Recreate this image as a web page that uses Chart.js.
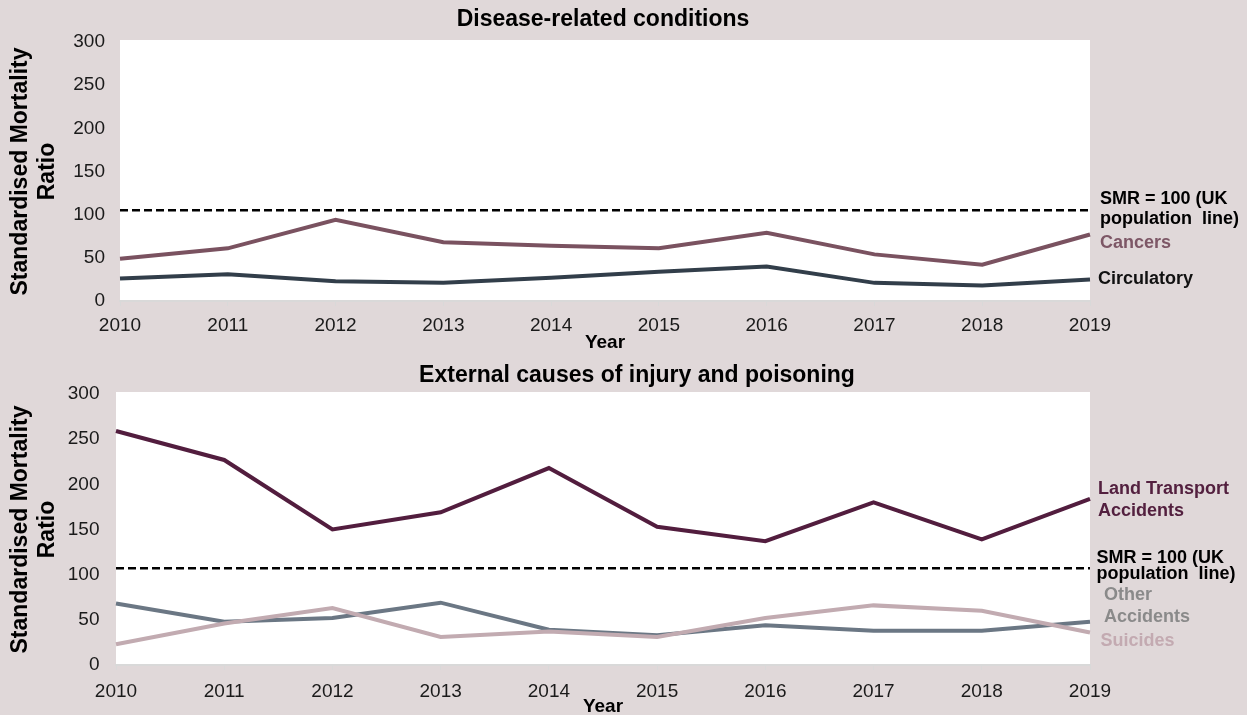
<!DOCTYPE html>
<html>
<head>
<meta charset="utf-8">
<script src="https://cdn.jsdelivr.net/npm/chart.js@4.4.1/dist/chart.umd.min.js"></script>
<style>
  html, body { margin: 0; padding: 0; background: #e0d8d9; overflow: hidden; }
  .panel { position: absolute; left: 0; }
  #top { top: 0; }
  #bottom { top: 357px; }
</style>
</head>
<body>
<div class="panel" id="top"><canvas id="diseaseChart" width="1247" height="357"></canvas></div>
<div class="panel" id="bottom"><canvas id="externalChart" width="1247" height="358"></canvas></div>
<script>
const years = ['2010', '2011', '2012', '2013', '2014', '2015', '2016', '2017', '2018', '2019'];
const yTicks = [0, 50, 100, 150, 200, 250, 300];

// Disease-related conditions
const cancers = [49, 61, 94, 68, 64, 61, 79, 54, 42, 77];
const circulatory = [26, 31, 23, 21, 27, 34, 40, 21, 18, 25];
const smrTop = [105, 105, 105, 105, 105, 105, 105, 105, 105, 105];

// External causes of injury and poisoning
const landTransport = [259, 227, 150, 169, 218, 153, 137, 180, 139, 184];
const otherAccidents = [68, 48, 52, 69, 39, 33, 44, 38, 38, 48];
const suicides = [23, 46, 63, 31, 37, 31, 52, 66, 60, 36];
const smrBottom = [107, 107, 107, 107, 107, 107, 107, 107, 107, 107];

const FONT = '"Liberation Sans", Arial, sans-serif';

// white plot area + panel title
const plotBg = {
    id: 'plotBg',
    beforeDraw(chart) {
        const a = chart.chartArea;
        const c = chart.ctx;
        c.save();
        c.fillStyle = '#ffffff';
        c.fillRect(a.left, a.top - 2, a.right - a.left, a.bottom - a.top + 2);
        c.restore();
    },
    afterDraw(chart, args, opts) {
        const c = chart.ctx;
        c.save();
        c.font = 'bold 23px ' + FONT;
        c.fillStyle = '#000';
        c.textAlign = 'center';
        c.textBaseline = 'middle';
        c.fillText(opts.text, opts.x, opts.y);
        c.restore();
    }
};

// labels at the right end of each line
const sideLabels = {
    id: 'sideLabels',
    afterDraw(chart, args, opts) {
        const c = chart.ctx;
        const ys = chart.scales.y;
        c.save();
        c.font = 'bold 18px ' + FONT;
        c.textAlign = 'left';
        c.textBaseline = 'middle';
        opts.items.forEach(item => {
            const data = chart.data.datasets[item.ds].data;
            const yLast = ys.getPixelForValue(data[data.length - 1]);
            c.fillStyle = item.color;
            item.lines.forEach(l => {
                c.fillText(l.text, chart.chartArea.right + item.dx, yLast + l.dy);
            });
        });
        c.restore();
    }
};

function lineSet(label, data, color, order) {
    return {
        label: label,
        data: data,
        borderColor: color,
        borderWidth: 4,
        pointRadius: 0,
        tension: 0,
        fill: false,
        order: order
    };
}

function smrSet(data) {
    return {
        label: 'SMR = 100 (UK population line)',
        data: data,
        borderColor: '#000000',
        borderWidth: 2.5,
        borderDash: [8, 4],
        pointRadius: 0,
        fill: false,
        order: 0
    };
}

function makeOptions(cfg) {
    return {
        responsive: false,
        animation: false,
        layout: { padding: { left: 0, right: 157, top: cfg.top, bottom: 0 } },
        plugins: {
            legend: { display: false },
            tooltip: { enabled: false },
            plotBg: cfg.title,
            sideLabels: { items: cfg.labels }
        },
        scales: {
            x: {
                offset: false,
                grid: { drawOnChartArea: false, color: '#d9d9d9', tickLength: 5 },
                border: { display: true, color: '#d9d9d9', width: 2 },
                ticks: { color: '#1a1a1a', font: { family: FONT, size: 19 }, padding: cfg.xPad, maxRotation: 0, autoSkip: false },
                title: { display: true, text: 'Year', color: '#000', font: { family: FONT, size: 19, weight: 'bold' }, padding: { top: 0, bottom: cfg.yearPad } },
                afterFit(s) { s.height = cfg.xHeight; }
            },
            y: {
                min: 0,
                max: 300,
                afterBuildTicks(s) { s.ticks = yTicks.map(v => ({ value: v })); },
                grid: { display: false, drawTicks: false },
                border: { display: false },
                ticks: { color: '#1a1a1a', font: { family: FONT, size: 19 }, padding: cfg.yPad },
                title: { display: true, text: ['Standardised Mortality', 'Ratio'], color: '#000', font: { family: FONT, size: 23, weight: 'bold', lineHeight: 1.17 }, padding: { top: 7.5, bottom: 0 } },
                afterFit(s) { s.width = cfg.yWidth; }
            }
        }
    };
}

new Chart(document.getElementById('diseaseChart'), {
    type: 'line',
    data: {
        labels: years,
        datasets: [
            smrSet(smrTop),
            lineSet('Cancers', cancers, '#7a5260', 1),
            lineSet('Circulatory', circulatory, '#323e4a', 2)
        ]
    },
    options: makeOptions({
        top: 42, xHeight: 56, yWidth: 120, xPad: 8, yPad: 15, yearPad: 2.6,
        title: { text: 'Disease-related conditions', x: 603, y: 20 },
        labels: [
            { ds: 0, dx: 10, color: '#000', lines: [{ text: 'SMR = 100 (UK', dy: -11 }, { text: 'population  line)', dy: 9 }] },
            { ds: 1, dx: 10, color: '#7d5766', lines: [{ text: 'Cancers', dy: 9 }] },
            { ds: 2, dx: 8, color: '#111', lines: [{ text: 'Circulatory', dy: 0 }] }
        ]
    }),
    plugins: [plotBg, sideLabels]
});

new Chart(document.getElementById('externalChart'), {
    type: 'line',
    data: {
        labels: years,
        datasets: [
            smrSet(smrBottom),
            lineSet('Land Transport Accidents', landTransport, '#521d3e', 1),
            lineSet('Suicides', suicides, '#c2abb1', 2),
            lineSet('Other Accidents', otherAccidents, '#6b7784', 3)
        ]
    },
    options: makeOptions({
        top: 37, xHeight: 50, yWidth: 116, xPad: 10, yPad: 16.5, yearPad: -2.9,
        title: { text: 'External causes of injury and poisoning', x: 637, y: 19 },
        labels: [
            { ds: 1, dx: 8, color: '#53203f', lines: [{ text: 'Land Transport', dy: -10 }, { text: 'Accidents', dy: 12 }] },
            { ds: 0, dx: 6.5, color: '#000', lines: [{ text: 'SMR = 100 (UK', dy: -10.5 }, { text: 'population  line)', dy: 6 }] },
            { ds: 3, dx: 14, color: '#8a8a8a', lines: [{ text: 'Other', dy: -27 }, { text: 'Accidents', dy: -5 }] },
            { ds: 2, dx: 10.5, color: '#c3aab1', lines: [{ text: 'Suicides', dy: 9 }] }
        ]
    }),
    plugins: [plotBg, sideLabels]
});
</script>
</body>
</html>
